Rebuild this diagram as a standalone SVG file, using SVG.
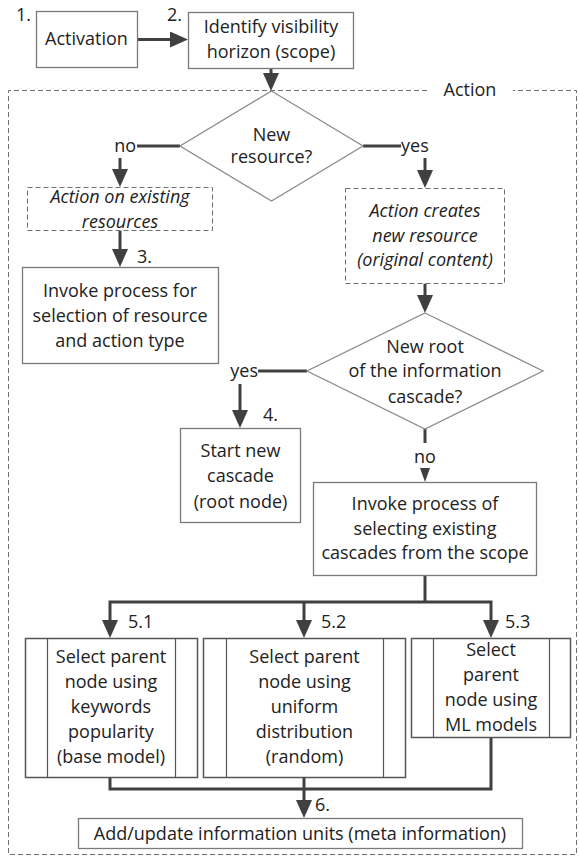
<svg xmlns="http://www.w3.org/2000/svg" width="580" height="857" viewBox="0 0 580 857">
<defs>
<style>
text{font-family:"Open Sans","Liberation Sans",Arial,sans-serif;font-size:18px;fill:#222}
.c{text-anchor:middle}
.e{text-anchor:end}
.i{font-style:italic}
.box{fill:#fff;stroke:#7a7a7a;stroke-width:1.3}
.dia{fill:#fff;stroke:#8c8c8c;stroke-width:1.3}
.dbox{fill:#fff;stroke:#6e6e6e;stroke-width:1;stroke-dasharray:5,3}
.frame{fill:none;stroke:#6e6e6e;stroke-width:1;stroke-dasharray:5,3}
.pbox{fill:#fff;stroke:#555;stroke-width:1.5}
.pin{stroke:#555;stroke-width:1.2;fill:none}
.ln{fill:none;stroke:#404040;stroke-width:3}
.ar{marker-end:url(#ah)}
</style>
<marker id="ah" markerUnits="userSpaceOnUse" markerWidth="18" markerHeight="16" refX="10" refY="8" orient="auto"><path d="M0,0 L18,8 L0,16 z" fill="#404040"/></marker>
</defs>
<rect width="580" height="857" fill="#fff"/>

<g id="frame">
<path class="frame" d="M427,90.5 H8.5 V854.5 H576.5 V90.5 H513"/>
<text class="c" x="470" y="96">Action</text>
</g>

<g id="connectors">
<path class="ln ar" d="M137.5,39.5 H180"/>
<path class="ln ar" d="M271,68.5 V83"/>
<path class="ln" d="M180,146 H137"/>
<path class="ln ar" d="M120,158 V179"/>
<path class="ln" d="M363,146 H401"/>
<path class="ln ar" d="M425,158 V180"/>
<path class="ln ar" d="M120,230.5 V259"/>
<path class="ln ar" d="M425,283.5 V305"/>
<path class="ln" d="M307,371 H258"/>
<path class="ln ar" d="M240,384 V420"/>
<path class="ln" d="M425,429 V443"/>
<polygon points="420,468 430,468 425,482" fill="#404040"/>
<path class="ln" d="M425,575.5 V602"/>
<path class="ln ar" d="M425,602 H110 V630"/>
<path class="ln ar" d="M425,602 H491 V630"/>
<path class="ln ar" d="M304,602 V630"/>
<path class="ln" d="M110,778 V789 H491 V737.5"/>
<path class="ln ar" d="M304,778 V810"/>
<text class="e" x="136" y="152">no</text>
<text x="401" y="152">yes</text>
<text class="e" x="258" y="377">yes</text>
<text class="c" x="425" y="463">no</text>
</g>

<g id="n1">
<text x="16" y="21">1.</text>
<rect class="box" x="36.5" y="11.5" width="101" height="56"/>
<text class="c" x="86.5" y="45">Activation</text>
</g>

<g id="n2">
<text x="167" y="21">2.</text>
<rect class="box" x="188.5" y="12.5" width="165" height="56"/>
<text class="c" x="271" y="33">Identify visibility</text>
<text class="c" x="271" y="58">horizon (scope)</text>
</g>

<g id="d1">
<polygon class="dia" points="271.5,91 363,146 271.5,201 180,146"/>
<text class="c" x="271.5" y="141">New</text>
<text class="c" x="271.5" y="163">resource?</text>
</g>

<g id="a1">
<rect class="dbox" x="27.5" y="187.5" width="185" height="43"/>
<text class="c i" x="120" y="203">Action on existing</text>
<text class="c i" x="120" y="228">resources</text>
</g>

<g id="a2">
<rect class="dbox" x="345.5" y="188.5" width="159" height="95"/>
<text class="c i" x="425" y="217">Action creates</text>
<text class="c i" x="425" y="242">new resource</text>
<text class="c i" x="425" y="266">(original content)</text>
</g>

<g id="n3">
<text x="137" y="263">3.</text>
<rect class="box" x="22.5" y="267.5" width="196" height="96"/>
<text class="c" x="120" y="297">Invoke process for</text>
<text class="c" x="120" y="322">selection of resource</text>
<text class="c" x="120" y="347">and action type</text>
</g>

<g id="d2">
<polygon class="dia" points="425,313 543,371 425,429 307,371"/>
<text class="c" x="425" y="353">New root</text>
<text class="c" x="425" y="377">of the information</text>
<text class="c" x="425" y="403">cascade?</text>
</g>

<g id="n4">
<text x="263" y="421">4.</text>
<rect class="box" x="180.5" y="428.5" width="120" height="94"/>
<text class="c" x="240.5" y="457">Start new</text>
<text class="c" x="240.5" y="482">cascade</text>
<text class="c" x="240.5" y="508">(root node)</text>
</g>

<g id="n5">
<rect class="box" x="313.5" y="482.5" width="223" height="93"/>
<text class="c" x="425" y="510">Invoke process of</text>
<text class="c" x="425" y="535">selecting existing</text>
<text class="c" x="425" y="559">cascades from the scope</text>
</g>

<g id="n51">
<text x="128" y="628">5.1</text>
<rect class="pbox" x="25.5" y="638.5" width="172" height="139"/>
<path class="pin" d="M47.5,638.5 V777.5 M175.5,638.5 V777.5"/>
<text class="c" x="111" y="663">Select parent</text>
<text class="c" x="111" y="688">node using</text>
<text class="c" x="111" y="713">keywords</text>
<text class="c" x="111" y="738">popularity</text>
<text class="c" x="111" y="763">(base model)</text>
</g>

<g id="n52">
<text x="321" y="628">5.2</text>
<rect class="pbox" x="203.5" y="638.5" width="202" height="139"/>
<path class="pin" d="M226.5,638.5 V777.5 M383.5,638.5 V777.5"/>
<text class="c" x="304.5" y="663">Select parent</text>
<text class="c" x="304.5" y="688">node using</text>
<text class="c" x="304.5" y="713">uniform</text>
<text class="c" x="304.5" y="738">distribution</text>
<text class="c" x="304.5" y="763">(random)</text>
</g>

<g id="n53">
<text x="505" y="628">5.3</text>
<rect class="pbox" x="411.5" y="638.5" width="159" height="99"/>
<path class="pin" d="M433.5,638.5 V737.5 M549.5,638.5 V737.5"/>
<text class="c" x="491" y="656">Select</text>
<text class="c" x="491" y="681">parent</text>
<text class="c" x="491" y="706">node using</text>
<text class="c" x="491" y="731">ML models</text>
</g>

<g id="n6">
<text x="315" y="811">6.</text>
<rect class="box" x="78.5" y="818.5" width="444" height="30"/>
<text class="c" x="300" y="840">Add/update information units (meta information)</text>
</g>
</svg>
